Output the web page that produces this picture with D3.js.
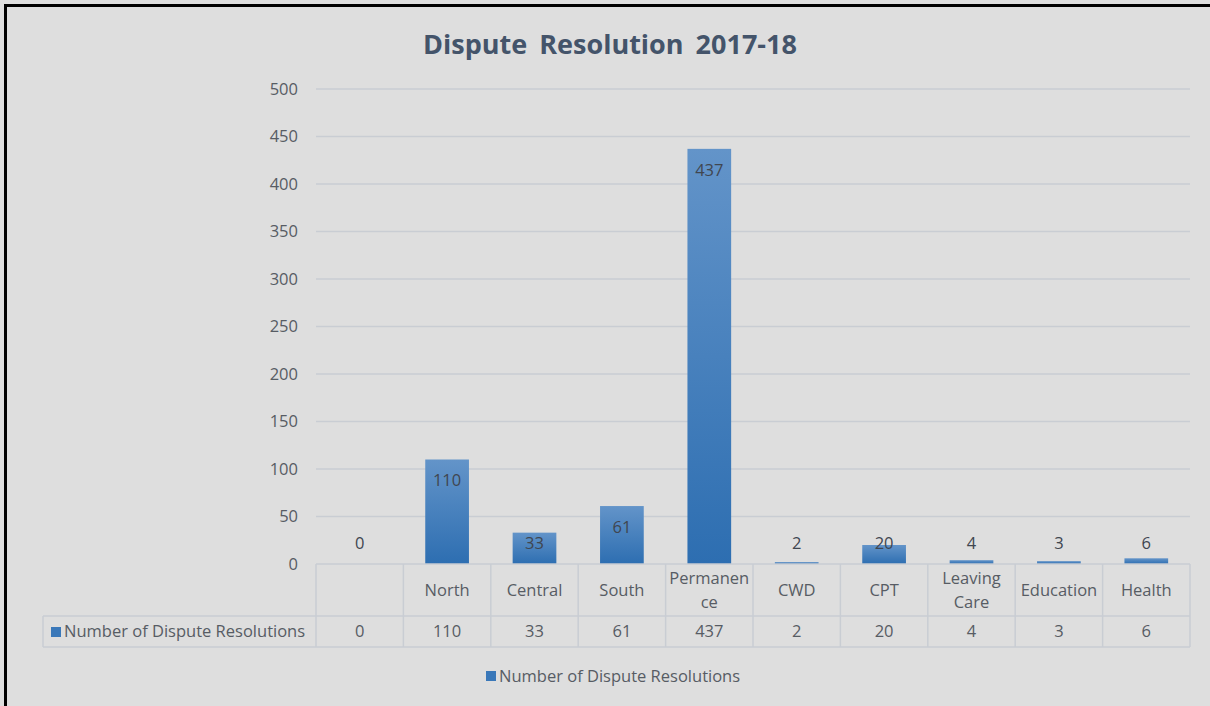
<!DOCTYPE html>
<html>
<head>
<meta charset="utf-8">
<script src="https://cdn.jsdelivr.net/npm/d3@7"></script>
<style>
  html, body { margin: 0; padding: 0; background: #dedede; }
  svg { display: block; }
  text { font-family: "Open Sans", "Noto Sans", sans-serif; }
</style>
</head>
<body>
<svg id="chart" width="1210" height="706"></svg>
<script>
// Dispute resolutions by area, 2017-18
const categories = ["", "North", "Central", "South", "Permanence", "CWD", "CPT", "Leaving Care", "Education", "Health"];
const categoryLines = [[""], ["North"], ["Central"], ["South"], ["Permanen", "ce"], ["CWD"], ["CPT"], ["Leaving", "Care"], ["Education"], ["Health"]];
const values = [0, 110, 33, 61, 437, 2, 20, 4, 3, 6];
const seriesName = "Number of Dispute Resolutions";
const yTicks = [0, 50, 100, 150, 200, 250, 300, 350, 400, 450, 500];
const title = "Dispute Resolution 2017-18";

const svg = d3.select("#chart");
const W = 1210, H = 706;
const plot = { left: 316, right: 1190, top: 89, bottom: 564 };
const tableRow1 = 616, tableRow2 = 647, tableLeft = 43;

const textColor = "#575c64";
const gridColor = "#c9cdd3";
const fs = 16.5;

// Background and frame
svg.append("rect").attr("width", W).attr("height", H).attr("fill", "#dedede");
svg.append("rect").attr("x", 4).attr("y", 4).attr("width", 3).attr("height", H).attr("fill", "#000");
svg.append("rect").attr("x", 4).attr("y", 4).attr("width", W).attr("height", 3).attr("fill", "#000");

// Title
svg.append("text")
  .attr("x", 610).attr("y", 54)
  .attr("text-anchor", "middle")
  .attr("font-size", 27).attr("font-weight", "bold")
  .attr("fill", "#44546a")
  .attr("word-spacing", 5)
  .text(title);

const x = d3.scaleBand().domain(categories.map((d, i) => i)).range([plot.left, plot.right]).paddingInner(0.5).paddingOuter(0.25);
const xCell = d3.scaleBand().domain(categories.map((d, i) => i)).range([plot.left, plot.right]);
const y = d3.scaleLinear().domain([0, 500]).range([plot.bottom, plot.top]);

// Gridlines
svg.append("g").selectAll("line").data(yTicks.filter(t => t > 0)).join("line")
  .attr("x1", plot.left).attr("x2", plot.right)
  .attr("y1", d => y(d)).attr("y2", d => y(d))
  .attr("stroke", gridColor).attr("stroke-width", 1.5);

// Y axis labels
const yAxis = d3.axisLeft(y).tickValues(yTicks).tickSize(0).tickPadding(0);
const yg = svg.append("g").attr("transform", `translate(${plot.left - 18},0)`).call(yAxis);
yg.select(".domain").remove();
yg.selectAll("text").attr("font-size", fs).attr("fill", textColor).attr("font-family", "'Open Sans', sans-serif");

// Bar gradient
const defs = svg.append("defs");
const grad = defs.append("linearGradient").attr("id", "barGrad").attr("x1", 0).attr("y1", 0).attr("x2", 0).attr("y2", 1);
grad.append("stop").attr("offset", "0%").attr("stop-color", "#6394c9");
grad.append("stop").attr("offset", "100%").attr("stop-color", "#2d6eb1");

svg.append("g").selectAll("rect").data(values).join("rect")
  .attr("x", (d, i) => x(i))
  .attr("width", x.bandwidth())
  .attr("y", d => y(d))
  .attr("height", d => y(0) - y(d))
  .attr("fill", d => d > 0 ? "url(#barGrad)" : "none");

// Data labels
svg.append("g").selectAll("text").data(values).join("text")
  .attr("x", (d, i) => x(i) + x.bandwidth() / 2)
  .attr("y", d => Math.min(y(d) + 21, y(0) - 21))
  .attr("dy", "0.35em")
  .attr("text-anchor", "middle")
  .attr("font-size", fs).attr("fill", "#404650")
  .text(d => d);

// Data table
const tg = svg.append("g");
const cellStroke = "#c9cdd3";
const vx = d3.range(categories.length + 1).map(i => i < categories.length ? xCell(i) : plot.right);
tg.selectAll("line.v").data(vx).join("line")
  .attr("x1", d => d).attr("x2", d => d)
  .attr("y1", plot.bottom).attr("y2", tableRow2)
  .attr("stroke", cellStroke).attr("stroke-width", 1.5);
tg.append("line").attr("x1", tableLeft).attr("x2", tableLeft).attr("y1", tableRow1).attr("y2", tableRow2).attr("stroke", cellStroke).attr("stroke-width", 1.5);
tg.append("line").attr("x1", plot.left).attr("x2", plot.right).attr("y1", plot.bottom).attr("y2", plot.bottom).attr("stroke", cellStroke).attr("stroke-width", 1.5);
tg.append("line").attr("x1", tableLeft).attr("x2", plot.right).attr("y1", tableRow1).attr("y2", tableRow1).attr("stroke", cellStroke).attr("stroke-width", 1.5);
tg.append("line").attr("x1", tableLeft).attr("x2", plot.right).attr("y1", tableRow2).attr("y2", tableRow2).attr("stroke", cellStroke).attr("stroke-width", 1.5);

// category labels
const catG = tg.selectAll("text.cat").data(categoryLines).join("text")
  .attr("text-anchor", "middle")
  .attr("font-size", fs).attr("fill", textColor)
  .attr("x", (d, i) => xCell(i) + xCell.bandwidth() / 2);
catG.each(function(lines) {
  const t = d3.select(this);
  const mid = (plot.bottom + tableRow1) / 2;
  const lh = 24;
  lines.forEach((ln, k) => {
    t.append("tspan")
      .attr("x", t.attr("x"))
      .attr("y", mid + (k - (lines.length - 1) / 2) * lh)
      .attr("dy", "0.35em")
      .text(ln);
  });
});

// value row
tg.selectAll("text.val").data(values).join("text")
  .attr("x", (d, i) => xCell(i) + xCell.bandwidth() / 2)
  .attr("y", (tableRow1 + tableRow2) / 2)
  .attr("dy", "0.35em")
  .attr("text-anchor", "middle")
  .attr("font-size", fs).attr("fill", textColor)
  .text(d => d);

// series key in the table
tg.append("rect").attr("x", 51).attr("y", 627).attr("width", 10).attr("height", 10).attr("fill", "#3a78b9");
tg.append("text").attr("x", 64).attr("y", (tableRow1 + tableRow2) / 2).attr("dy", "0.35em")
  .attr("font-size", fs).attr("fill", textColor).text(seriesName);

// Legend
const lg = svg.append("g");
lg.append("rect").attr("x", 486).attr("y", 671).attr("width", 10).attr("height", 10).attr("fill", "#3a78b9");
lg.append("text").attr("x", 499).attr("y", 676).attr("dy", "0.35em")
  .attr("font-size", fs).attr("fill", textColor).text(seriesName);
</script>
</body>
</html>
